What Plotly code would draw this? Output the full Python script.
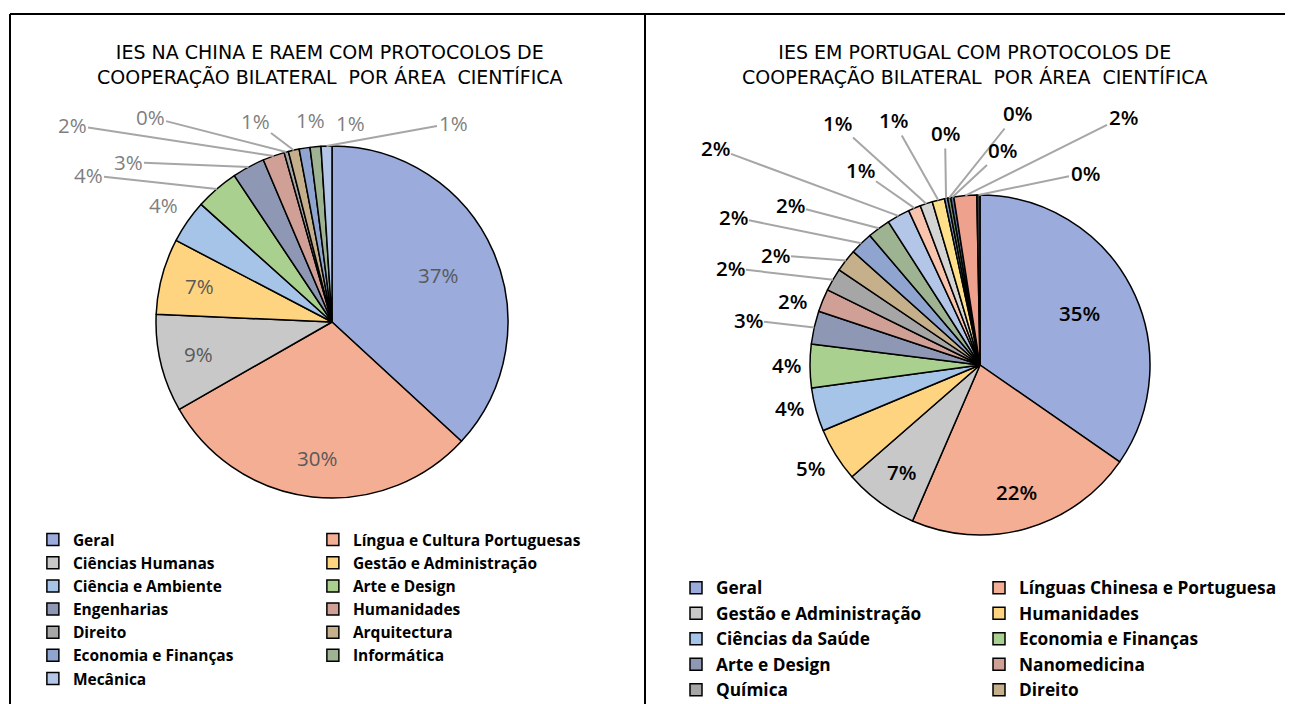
import math
import plotly.graph_objects as go

# IES na China e RAEM
china_labels = ["Geral", "Língua e Cultura Portuguesas", "Ciências Humanas", "Gestão e Administração",
                "Ciência e Ambiente", "Arte e Design", "Engenharias", "Humanidades", "Direito",
                "Arquitectura", "Economia e Finanças", "Informática", "Mecânica"]
china_values = [37, 30, 9, 7, 4, 4, 3, 2, 0.4, 1, 1, 1, 1]
china_colors = ["#9aabdc", "#f4ae94", "#c8c8c8", "#ffd480", "#a6c4e8", "#a9d08e", "#8e98b4",
                "#d0a096", "#a6a6a6", "#c6b08c", "#8fa5cf", "#9db392", "#b3c6e7"]

# IES em Portugal (the legend of the source is cut off after the 10th entry)
pt_labels = ["Geral", "Línguas Chinesa e Portuguesa", "Gestão e Administração", "Humanidades",
             "Ciências da Saúde", "Economia e Finanças", "Arte e Design", "Nanomedicina",
             "Química", "Direito", "Área 11", "Área 12", "Área 13", "Área 14", "Área 15",
             "Área 16", "Área 17", "Área 18", "Área 19", "Área 20", "Área 21"]
pt_values = [35.2, 22.2, 7.2, 5.2, 4.2, 4.2, 3.2, 2.2, 2.2, 2.2, 2.2, 2.2, 2.2,
             1.2, 1.2, 1.2, 0.3, 0.3, 0.3, 2.2, 0.3]
pt_colors = ["#9aabdc", "#f4ae94", "#c8c8c8", "#ffd480", "#a6c4e8", "#a9d08e", "#8e98b4",
             "#d0a096", "#a6a6a6", "#c6b08c", "#8fa5cf", "#9db392", "#b3c6e7", "#f8c4ae",
             "#d4d4d4", "#ffe08a", "#7f93c4", "#6e8f5e", "#5f6f98", "#eea28d", "#3a3a3a"]

# where the data labels of the small slices sit (screen pixels), Excel-like
china_label_pos = {4: (163, 205), 5: (88, 175), 6: (128, 162), 7: (72, 125), 8: (150, 117),
                   9: (255, 121), 10: (310, 120), 11: (350, 123), 12: (453, 123)}
pt_label_pos = {3: (810, 468), 4: (790, 408), 5: (786, 365), 6: (748, 320), 7: (793, 301),
                8: (730, 268), 9: (775, 255), 10: (733, 217), 11: (790, 205), 12: (715, 148),
                13: (860, 170), 14: (837, 123), 15: (893, 120), 16: (945, 133), 17: (1017, 113),
                18: (1003, 150), 19: (1123, 117), 20: (1085, 173)}

W, H = 1293, 704
OFF = 8          # page body margin
ML, MR = 25, 25
PW = W - ML - MR
FONT = "Open Sans"


def px(x):
    return (x - OFF - ML) / PW


def py(y):
    return 1 - (y - OFF) / H


fig = go.Figure()


def add_pie(labels, values, colors, cx, cy, r, legend, label_pos, in_color, out_color, weight):
    fig.add_trace(go.Pie(
        labels=labels, values=values, sort=False, direction="clockwise",
        marker=dict(colors=colors, line=dict(color="black", width=1.5)),
        textinfo="none", hoverinfo="label+percent", legend=legend,
        domain=dict(x=[px(cx - r), px(cx + r)], y=[py(cy + r), py(cy - r)]),
    ))
    total = sum(values)
    cum = 0
    for i, v in enumerate(values):
        share = v / total
        ang = 2 * math.pi * (cum + share / 2)
        cum += share
        txt = f"{round(100 * share):.0f}%"
        common = dict(text=txt, xref="paper", yref="paper", xanchor="center", yanchor="middle")
        if i in label_pos:
            lx, ly = label_pos[i]
            tx, ty = cx + r * math.sin(ang), cy - r * math.cos(ang)
            f = dict(family=FONT, size=20.5, color=out_color, weight=weight)
            if math.hypot(lx - tx, ly - ty) > 45:
                fig.add_annotation(x=px(tx), y=py(ty), ax=lx - tx, ay=ly - ty, showarrow=True,
                                   arrowhead=0, arrowwidth=2, arrowcolor="#a6a6a6", standoff=0,
                                   font=f, **common)
            else:
                fig.add_annotation(x=px(lx), y=py(ly), showarrow=False, font=f, **common)
        else:
            k = 0.66 if share > 0.33 else 0.78
            fig.add_annotation(x=px(cx + k * r * math.sin(ang)), y=py(cy - k * r * math.cos(ang)),
                               showarrow=False,
                               font=dict(family=FONT, size=20.5, color=in_color, weight=weight), **common)


add_pie(china_labels, china_values, china_colors, 332, 322, 176, "legend",
        china_label_pos, "#595959", "#7f7f7f", 400)
# zero-width space keeps the legend entries of the two pies apart
add_pie([s + "\u200b" for s in pt_labels], pt_values, pt_colors, 980, 365, 170, "legend2",
        pt_label_pos, "black", "black", 600)

title_font = dict(family="DejaVu Sans", size=19, color="black")
fig.add_annotation(text="IES NA CHINA E RAEM COM PROTOCOLOS DE<br>COOPERAÇÃO BILATERAL  POR ÁREA  CIENTÍFICA",
                   x=px(330), y=py(64), xref="paper", yref="paper", xanchor="center", yanchor="middle",
                   showarrow=False, font=title_font)
fig.add_annotation(text="IES EM PORTUGAL COM PROTOCOLOS DE<br>COOPERAÇÃO BILATERAL  POR ÁREA  CIENTÍFICA",
                   x=px(975), y=py(64), xref="paper", yref="paper", xanchor="center", yanchor="middle",
                   showarrow=False, font=title_font)

# panel frame
line = dict(color="black", width=2)
fig.add_shape(type="line", xref="paper", yref="paper", x0=px(10), x1=px(W + OFF), y0=py(14), y1=py(14), line=line)
fig.add_shape(type="line", xref="paper", yref="paper", x0=px(10), x1=px(10), y0=py(H + OFF), y1=py(14), line=line)
fig.add_shape(type="line", xref="paper", yref="paper", x0=px(645), x1=px(645), y0=py(H + OFF), y1=py(14), line=line)

fig.update_layout(
    width=W, height=H,
    margin=dict(l=ML, r=MR, t=0, b=0, autoexpand=False),
    paper_bgcolor="white", plot_bgcolor="white",
    # legends placed just outside the plot area wrap at half the figure width -> two columns
    legend=dict(orientation="h", x=-1e-4, y=py(523), xanchor="left", yanchor="top",
                entrywidth=235, entrywidthmode="pixels",
                font=dict(family=FONT, size=15.5, color="black", weight="bold"),
                traceorder="normal", bgcolor="rgba(0,0,0,0)"),
    # the source legend runs off the bottom of the picture
    legend2=dict(orientation="h", x=px(1282), y=py(570), xanchor="right", yanchor="top",
                 entrywidth=258, entrywidthmode="pixels", maxheight=400,
                 font=dict(family=FONT, size=17.3, color="black", weight="bold"),
                 traceorder="normal", bgcolor="rgba(0,0,0,0)"),
)

fig.write_html("out.html")
